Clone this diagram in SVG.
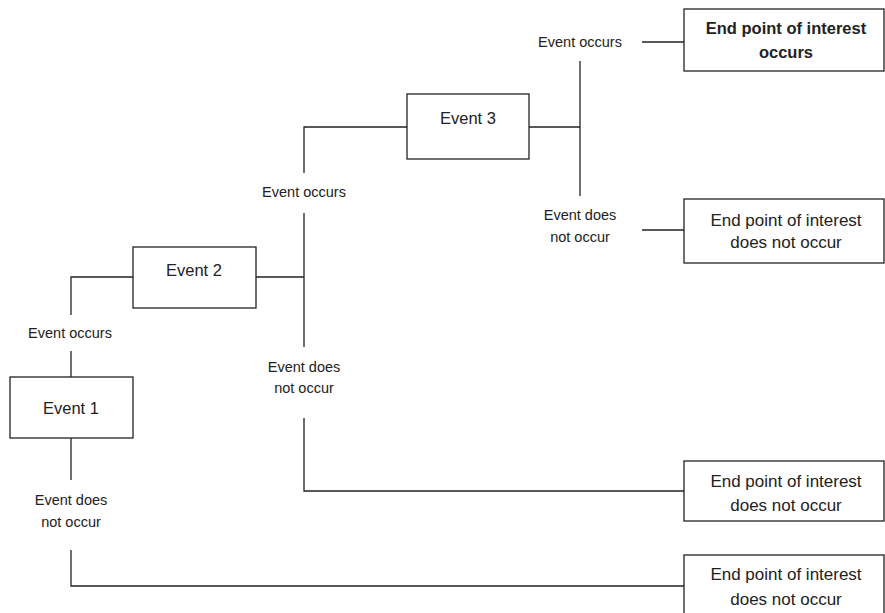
<svg xmlns="http://www.w3.org/2000/svg" width="885" height="613" viewBox="0 0 885 613">
<style>
.box{fill:#fff;stroke:#222;stroke-width:1.3}
.ln{fill:none;stroke:#222;stroke-width:1.3}
text{font-family:"Liberation Sans",Arial,sans-serif;fill:#222;text-anchor:middle;dominant-baseline:central}
.ev{font-size:16.5px}
.lb{font-size:14.5px}
.ep{font-size:17px}
.b{font-weight:bold;font-size:16.5px}
</style>
<rect width="885" height="613" fill="#fff"/>
<g id="connectors">
<polyline class="ln" points="71,315 71,277 133,277"/>
<line class="ln" x1="71" y1="351" x2="71" y2="377"/>
<line class="ln" x1="71" y1="438" x2="71" y2="480"/>
<polyline class="ln" points="71,550 71,586 684,586"/>
<line class="ln" x1="256" y1="277" x2="304" y2="277"/>
<polyline class="ln" points="304,173 304,127 407,127"/>
<line class="ln" x1="304" y1="213" x2="304" y2="347"/>
<polyline class="ln" points="304,418 304,491 684,491"/>
<line class="ln" x1="529" y1="127" x2="580" y2="127"/>
<line class="ln" x1="580" y1="61" x2="580" y2="196"/>
<line class="ln" x1="642" y1="42" x2="684" y2="42"/>
<line class="ln" x1="642" y1="230" x2="684" y2="230"/>
</g>
<g id="labels">
<text class="lb" x="70" y="333">Event occurs</text>
<text class="lb" x="71" y="500">Event does</text>
<text class="lb" x="71" y="522">not occur</text>
<text class="lb" x="304" y="192">Event occurs</text>
<text class="lb" x="304" y="367">Event does</text>
<text class="lb" x="304" y="388">not occur</text>
<text class="lb" x="580" y="42">Event occurs</text>
<text class="lb" x="580" y="215">Event does</text>
<text class="lb" x="580" y="237">not occur</text>
</g>
<g id="event1"><rect class="box" x="10" y="377" width="123" height="61"/><text class="ev" x="71" y="408">Event 1</text></g>
<g id="event2"><rect class="box" x="133" y="247" width="123" height="61"/><text class="ev" x="194" y="270">Event 2</text></g>
<g id="event3"><rect class="box" x="407" y="94" width="122" height="65"/><text class="ev" x="468" y="118">Event 3</text></g>
<g id="end1"><rect class="box" x="684" y="9" width="200" height="62"/><text class="b" x="786" y="28">End point of interest</text><text class="b" x="786" y="52">occurs</text></g>
<g id="end2"><rect class="box" x="684" y="199" width="200" height="64"/><text class="ep" x="786" y="220">End point of interest</text><text class="ep" x="786" y="242">does not occur</text></g>
<g id="end3"><rect class="box" x="684" y="461" width="200" height="60"/><text class="ep" x="786" y="481">End point of interest</text><text class="ep" x="786" y="505">does not occur</text></g>
<g id="end4"><rect class="box" x="684" y="555" width="200" height="70"/><text class="ep" x="786" y="574">End point of interest</text><text class="ep" x="786" y="599">does not occur</text></g>
</svg>
